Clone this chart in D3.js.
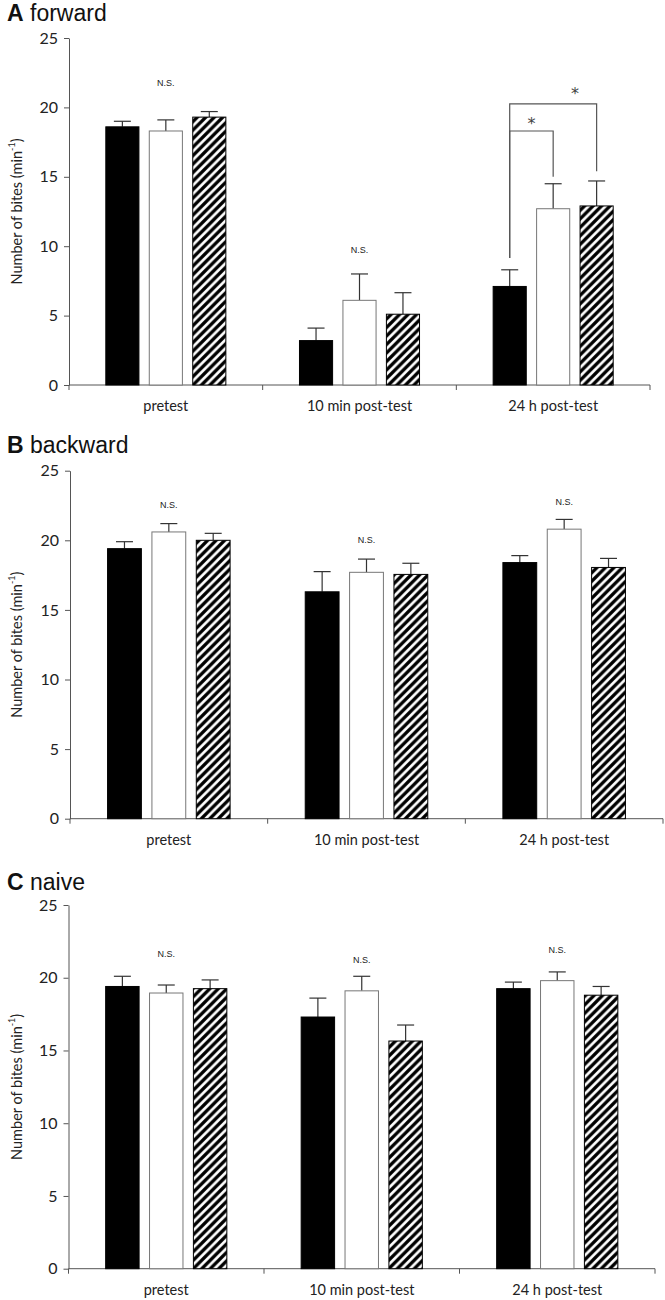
<!DOCTYPE html>
<html>
<head>
<meta charset="utf-8">
<script src="https://cdn.jsdelivr.net/npm/d3@7/dist/d3.min.js"></script>
<style>
  html, body { margin: 0; padding: 0; background: #fff; }
  svg { display: block; }
</style>
</head>
<body>
<div id="chart"></div>
<script>
// ---------- DATA ----------
const categories = ["pretest", "10 min post-test", "24 h post-test"];
const seriesNames = ["black", "white", "hatched"];
const yTicks = [0, 5, 10, 15, 20, 25];

// A forward
const forwardBlack   = [18.6, 3.2, 7.1];
const forwardWhite   = [18.3, 6.1, 12.7];
const forwardHatched = [19.3, 5.1, 12.9];
const forwardBlackErr   = [0.4, 0.9, 1.2];
const forwardWhiteErr   = [0.8, 1.9, 1.8];
const forwardHatchedErr = [0.4, 1.55, 1.8];
const forwardNS = [21.7, 9.7, null];

// B backward
const backwardBlack   = [19.4, 16.3, 18.4];
const backwardWhite   = [20.6, 17.7, 20.8];
const backwardHatched = [20.0, 17.55, 18.05];
const backwardBlackErr   = [0.5, 1.45, 0.5];
const backwardWhiteErr   = [0.6, 0.95, 0.7];
const backwardHatchedErr = [0.5, 0.8, 0.65];
const backwardNS = [22.5, 20.0, 22.7];

// C naive
const naiveBlack   = [19.4, 17.3, 19.25];
const naiveWhite   = [18.95, 19.1, 19.8];
const naiveHatched = [19.25, 15.65, 18.8];
const naiveBlackErr   = [0.7, 1.3, 0.45];
const naiveWhiteErr   = [0.55, 1.0, 0.6];
const naiveHatchedErr = [0.6, 1.1, 0.6];
const naiveNS = [21.6, 21.2, 21.85];

// significance brackets in panel A (24 h post-test)
const sigBrackets = [
  {from: "black", to: "hatched", top: 20.25, fromBottom: 9.15, toBottom: 15.4, star: 21.15, starBetween: ["white", "hatched"]},
  {from: "black", to: "white",   top: 18.3,  fromBottom: 9.15, toBottom: 15.0, star: 19.0,  starBetween: ["black", "white"]}
];

// ---------- LAYOUT ----------
const W = 665, H = 1300;
const svg = d3.select("#chart").append("svg").attr("width", W).attr("height", H)
  .attr("font-family", "'Liberation Sans', Arial, sans-serif");

const defs = svg.append("defs");
const P = 8.5;
const pat = defs.append("pattern").attr("id", "hatch")
  .attr("patternUnits", "userSpaceOnUse").attr("width", P).attr("height", P);
pat.append("rect").attr("width", P).attr("height", P).attr("fill", "#fff");
pat.append("path").attr("d", `M-2,2 L2,-2 M0,${P} L${P},0 M${P-2},${P+2} L${P+2},${P-2}`)
  .attr("stroke", "#000").attr("stroke-width", 3.3);

const panels = [
  {letter: "A", name: "forward", means: [forwardBlack, forwardWhite, forwardHatched],
   errs: [forwardBlackErr, forwardWhiteErr, forwardHatchedErr], ns: forwardNS,
   x0: 69, x1: 650, yTop: 38, yBot: 385, titleY: 21, brackets: sigBrackets},
  {letter: "B", name: "backward", means: [backwardBlack, backwardWhite, backwardHatched],
   errs: [backwardBlackErr, backwardWhiteErr, backwardHatchedErr], ns: backwardNS,
   x0: 70, x1: 663, yTop: 470.7, yBot: 818.7, titleY: 453, brackets: []},
  {letter: "C", name: "naive", means: [naiveBlack, naiveWhite, naiveHatched],
   errs: [naiveBlackErr, naiveWhiteErr, naiveHatchedErr], ns: naiveNS,
   x0: 68.5, x1: 655, yTop: 905, yBot: 1268.7, titleY: 890, brackets: []}
];

const fills = {black: "#000", white: "#fff", hatched: "url(#hatch)"};
const strokes = {black: "#000", white: "#777", hatched: "#000"};
const axisColor = "#555";
const tickFont = "Lato, 'Open Sans', sans-serif";

panels.forEach(p => {
  const g = svg.append("g");
  const x = d3.scaleBand().domain(categories).range([p.x0, p.x1]).padding(0);
  const y = d3.scaleLinear().domain([0, 25]).range([p.yBot, p.yTop]);
  const groupW = x.bandwidth() * 0.625;
  const xs = d3.scaleBand().domain(seriesNames).range([0, groupW]).paddingInner(0.215).paddingOuter(0);
  const barX = (cat, s) => x(cat) + (x.bandwidth() - groupW) / 2 + xs(s);
  const barC = (cat, s) => barX(cat, s) + xs.bandwidth() / 2;

  // title
  const t = g.append("text").attr("x", 7).attr("y", p.titleY).attr("font-size", 23).attr("fill", "#111");
  t.append("tspan").attr("font-weight", "bold").text(p.letter);
  t.append("tspan").text(" " + p.name);

  // y axis
  const yAxis = g.append("g").attr("transform", `translate(${p.x0},0)`)
    .call(d3.axisLeft(y).tickValues(yTicks).tickSize(5).tickSizeOuter(0).tickPadding(6));
  yAxis.select(".domain").attr("stroke", axisColor);
  yAxis.selectAll(".tick line").attr("stroke", axisColor);
  yAxis.selectAll(".tick text").attr("font-family", tickFont).attr("font-size", 16).attr("fill", "#222");

  // x axis
  const bounds = [p.x0].concat(categories.map(c => x(c) + x.bandwidth()));
  const xg = g.append("g");
  xg.append("line").attr("x1", p.x0).attr("x2", p.x1).attr("y1", p.yBot).attr("y2", p.yBot).attr("stroke", axisColor);
  xg.selectAll("line.tk").data(bounds).join("line").attr("class", "tk")
    .attr("x1", d => d).attr("x2", d => d).attr("y1", p.yBot).attr("y2", p.yBot + 5).attr("stroke", axisColor);
  xg.selectAll("text").data(categories).join("text")
    .attr("x", d => x(d) + x.bandwidth() / 2).attr("y", p.yBot + 26)
    .attr("text-anchor", "middle").attr("font-family", tickFont).attr("font-size", 14.5).attr("fill", "#222")
    .text(d => d);

  // y label
  const yl = g.append("text")
    .attr("transform", `translate(18,${(p.yTop + p.yBot) / 2}) rotate(-90)`)
    .attr("text-anchor", "middle").attr("dominant-baseline", "middle")
    .attr("font-family", tickFont).attr("font-size", 14.5).attr("fill", "#222");
  yl.append("tspan").text("Number of bites (min");
  yl.append("tspan").attr("baseline-shift", "super").attr("font-size", 9).text("-1");
  yl.append("tspan").text(")");

  // rows
  const rows = [];
  categories.forEach((c, ci) => seriesNames.forEach((s, si) => {
    rows.push({cat: c, s: s, v: p.means[si][ci], e: p.errs[si][ci]});
  }));

  // error bars
  const eg = g.append("g").attr("stroke", "#333").attr("stroke-width", 1.2);
  eg.selectAll("line.ev").data(rows).join("line").attr("class", "ev")
    .attr("x1", d => barC(d.cat, d.s)).attr("x2", d => barC(d.cat, d.s))
    .attr("y1", d => y(d.v)).attr("y2", d => y(d.v + d.e));
  eg.selectAll("line.ec").data(rows).join("line").attr("class", "ec")
    .attr("x1", d => barC(d.cat, d.s) - 8.5).attr("x2", d => barC(d.cat, d.s) + 8.5)
    .attr("y1", d => y(d.v + d.e)).attr("y2", d => y(d.v + d.e));

  // bars
  g.append("g").selectAll("rect").data(rows).join("rect")
    .attr("x", d => barX(d.cat, d.s) + 0.5).attr("width", xs.bandwidth() - 1)
    .attr("y", d => y(d.v)).attr("height", d => y(0) - y(d.v))
    .attr("fill", d => fills[d.s]).attr("stroke", d => strokes[d.s]).attr("stroke-width", 1);

  // N.S. labels
  g.append("g").selectAll("text").data(categories.map((c, i) => ({c, v: p.ns[i]})).filter(d => d.v != null))
    .join("text").attr("x", d => x(d.c) + x.bandwidth() / 2).attr("y", d => y(d.v))
    .attr("text-anchor", "middle").attr("dominant-baseline", "middle")
    .attr("font-size", 9).attr("fill", "#222").text("N.S.");

  // significance brackets
  const cat = categories[2];
  p.brackets.forEach(b => {
    const path = d3.path();
    path.moveTo(barC(cat, b.from), y(b.fromBottom));
    path.lineTo(barC(cat, b.from), y(b.top));
    path.lineTo(barC(cat, b.to), y(b.top));
    path.lineTo(barC(cat, b.to), y(b.toBottom));
    g.append("path").attr("d", path.toString()).attr("fill", "none").attr("stroke", "#555").attr("stroke-width", 1.2);
    g.append("text")
      .attr("x", (barC(cat, b.starBetween[0]) + barC(cat, b.starBetween[1])) / 2)
      .attr("y", y(b.star) + 8)
      .attr("text-anchor", "middle").attr("font-family", "'DejaVu Sans', sans-serif")
      .attr("font-size", 16).attr("fill", "#444").text("*");
  });
});
</script>
</body>
</html>
